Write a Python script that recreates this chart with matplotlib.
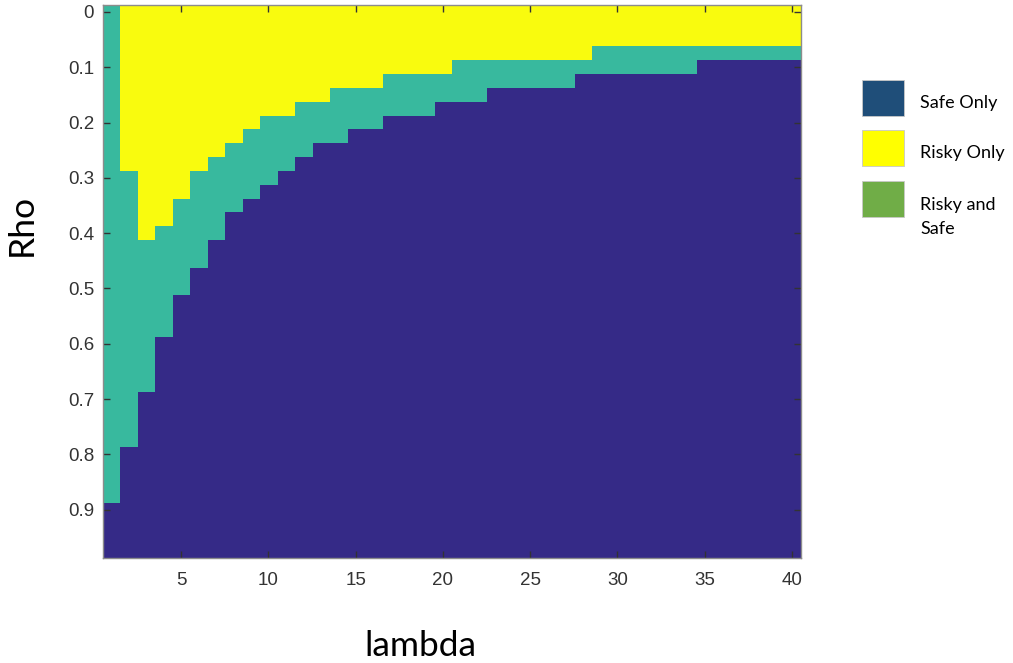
import numpy as np
import matplotlib
matplotlib.use("Agg")
import matplotlib.pyplot as plt
from matplotlib.colors import ListedColormap
from matplotlib.patches import Rectangle

# Grid of parameter values
lam = np.arange(1, 41)                      # lambda, 1..40
rho = np.arange(40) * 0.025                 # rho, 0..0.975

# For each lambda: rho below which only the risky asset is held,
# and rho below which the risky asset is held at all (above it: safe only)
risky_only_end = [0.000, 0.300, 0.425, 0.400, 0.350, 0.300, 0.275, 0.250,
                  0.225, 0.200, 0.200, 0.175, 0.175, 0.150, 0.150, 0.150,
                  0.125, 0.125, 0.125, 0.125, 0.100, 0.100, 0.100, 0.100,
                  0.100, 0.100, 0.100, 0.100, 0.075, 0.075, 0.075, 0.075,
                  0.075, 0.075, 0.075, 0.075, 0.075, 0.075, 0.075, 0.075]
risky_end = [0.900, 0.800, 0.700, 0.600, 0.525, 0.475, 0.425, 0.375,
             0.350, 0.325, 0.300, 0.275, 0.250, 0.250, 0.225, 0.225,
             0.200, 0.200, 0.200, 0.175, 0.175, 0.175, 0.150, 0.150,
             0.150, 0.150, 0.150, 0.125, 0.125, 0.125, 0.125, 0.125,
             0.125, 0.125, 0.100, 0.100, 0.100, 0.100, 0.100, 0.100]

legend_labels = ["Safe Only", "Risky Only", "Risky and\nSafe"]
legend_colors = ["#1f4e79", "#ffff00", "#70ad47"]

# Region code: 0 = safe only, 1 = risky and safe, 2 = risky only
rr = rho[:, None]
region = np.zeros((rho.size, lam.size), dtype=int)
region[rr < np.array(risky_end)[None, :] - 1e-9] = 1
region[rr < np.array(risky_only_end)[None, :] - 1e-9] = 2

cmap = ListedColormap(["#352a87", "#38b99e", "#f9fb0e"])

W, H = 1013, 663
fig = plt.figure(figsize=(W / 100, H / 100), dpi=100)
ax = fig.add_axes([102.5 / W, 1 - 558 / H, (800.7 - 102.5) / W, (558 - 5) / H])

drho = rho[1] - rho[0]
ax.imshow(region, cmap=cmap, vmin=0, vmax=2, aspect="auto",
          interpolation="nearest",
          extent=[lam[0] - 0.5, lam[-1] + 0.5, rho[-1] + drho / 2, rho[0] - drho / 2])

ax.set_xticks(np.arange(5, 41, 5))
ax.set_yticks(np.round(np.arange(0, 0.95, 0.1), 1))
ax.set_yticklabels(["0"] + [f"{v:.1f}" for v in np.arange(0.1, 0.95, 0.1)])

tick_family = ["Liberation Sans", "DejaVu Sans"]
for lab in ax.get_xticklabels() + ax.get_yticklabels():
    lab.set_fontfamily(tick_family)
    lab.set_fontsize(13.5)
    lab.set_color("#333333")

ax.tick_params(axis="both", direction="in", length=5, width=1, color="#333333",
               top=True, right=True)
ax.tick_params(axis="x", pad=10)
ax.tick_params(axis="y", pad=6)
for sp in ax.spines.values():
    sp.set_color("#8c8c8c")
    sp.set_linewidth(1.0)

label_font = ["Lato", "DejaVu Sans"]
fig.text(420 / W, 1 - 646 / H, "lambda", family=label_font, size=25.5,
         ha="center", va="center", color="#000000")
fig.text(22 / W, 1 - 225 / H, "Rho", family=label_font, size=25.5,
         ha="center", va="center", rotation=90, color="#000000")

# Legend drawn as figure-level patches and text
patch_tops = [80, 130, 181]
text_ys = [103, 153, 217]
for top, ty, lbl, col in zip(patch_tops, text_ys, legend_labels, legend_colors):
    fig.patches.append(Rectangle((862 / W, 1 - (top + 36) / H), 42 / W, 36 / H,
                                 transform=fig.transFigure, facecolor=col,
                                 edgecolor="#c8c8c8", linewidth=0.6))
    fig.text(920 / W, 1 - ty / H, lbl, family=label_font, size=13,
             ha="left", va="center", color="#000000", linespacing=1.6)

fig.savefig("out.png", dpi=100)
